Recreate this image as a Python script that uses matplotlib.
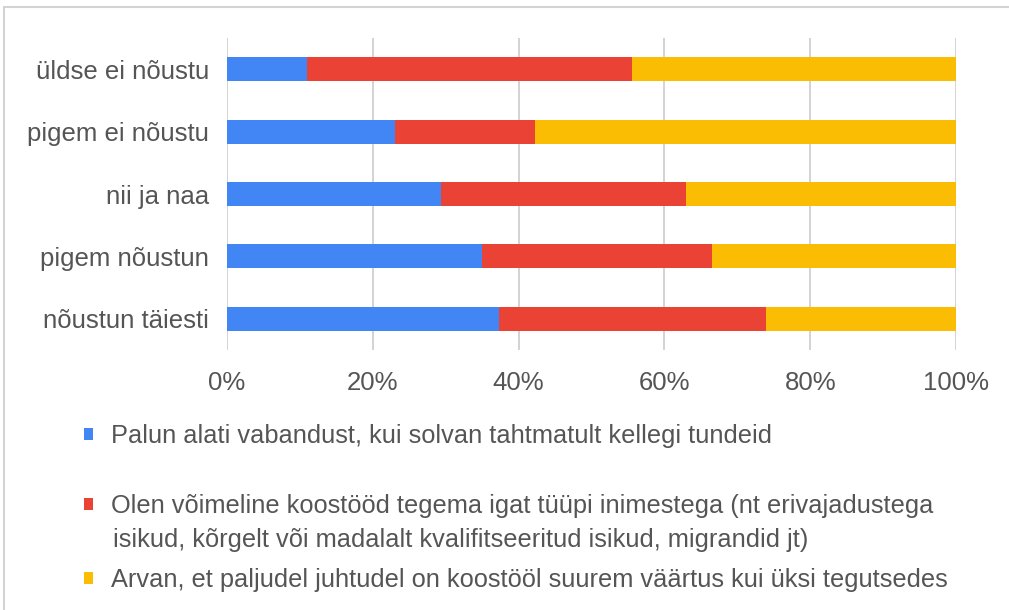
import matplotlib.pyplot as plt
from matplotlib.patches import Rectangle
from matplotlib.ticker import PercentFormatter

plt.rcParams["font.family"] = ["Liberation Sans", "DejaVu Sans"]

categories = ["üldse ei nõustu", "pigem ei nõustu", "nii ja naa", "pigem nõustun", "nõustun täiesti"]
# shares in percent
apologise = [11.0, 23.0, 29.3, 35.0, 37.3]
cooperate = [44.6, 19.2, 33.7, 31.5, 36.6]
together = [44.4, 57.8, 37.0, 33.5, 26.1]

series_labels = [
    "Palun alati vabandust, kui solvan tahtmatult kellegi tundeid",
    "Olen võimeline koostööd tegema igat tüüpi inimestega (nt erivajadustega",
    "Arvan, et paljudel juhtudel on koostööl suurem väärtus kui üksi tegutsedes",
]
wrap_line = "isikud, kõrgelt või madalalt kvalifitseeritud isikud, migrandid jt)"
colors = ["#4285F4", "#EA4335", "#FBBC04"]
text_color = "#555555"

W, H = 1009, 610
fig = plt.figure(figsize=(W / 100, H / 100), dpi=100)
ax = fig.add_axes([227 / W, 1 - 350 / H, (956 - 227) / W, (350 - 38) / H])

ypos = list(range(len(categories)))
left = [0.0] * len(categories)
bars = []
for vals, col in zip([apologise, cooperate, together], colors):
    b = ax.barh(ypos, vals, left=left, height=0.385, color=col, zorder=3)
    bars.append(b)
    left = [l + v for l, v in zip(left, vals)]

ax.set_xlim(0, 100)
ax.set_ylim(len(categories) - 0.5, -0.5)
ax.set_xticks([0, 20, 40, 60, 80, 100])
ax.xaxis.set_major_formatter(PercentFormatter(decimals=0))
ax.set_yticks(ypos)
ax.set_yticklabels(categories)
ax.grid(axis="x", color="#d0d0d0", linewidth=1.3, zorder=0)
for s in ax.spines.values():
    s.set_visible(False)
ax.tick_params(axis="both", length=0, labelsize=18.5, labelcolor=text_color)
ax.tick_params(axis="y", pad=13)
ax.tick_params(axis="x", pad=15)

# legend, one entry at a time so the spacing can follow the original
legend_y = [436, 506, 580]
for b, lab, y in zip(bars, series_labels, legend_y):
    fig.legend(
        handles=[b], labels=[lab], loc="center left",
        bbox_to_anchor=(84 / W, 1 - y / H), frameon=False,
        fontsize=18.3, labelcolor=text_color, borderpad=0, borderaxespad=0,
        handlelength=0.36, handleheight=0.36, handletextpad=0.7,
    )
fig.text(113 / W, 1 - 540 / H, wrap_line, fontsize=18.3, color=text_color, va="center", ha="left")

# light frame round the chart
fig.patches.append(Rectangle((4 / W, -0.05), 1.1, 1 - 7 / H + 0.05, transform=fig.transFigure,
                             fill=False, edgecolor="#d3d3d3", linewidth=1.5))

fig.savefig("out.png", dpi=100)
